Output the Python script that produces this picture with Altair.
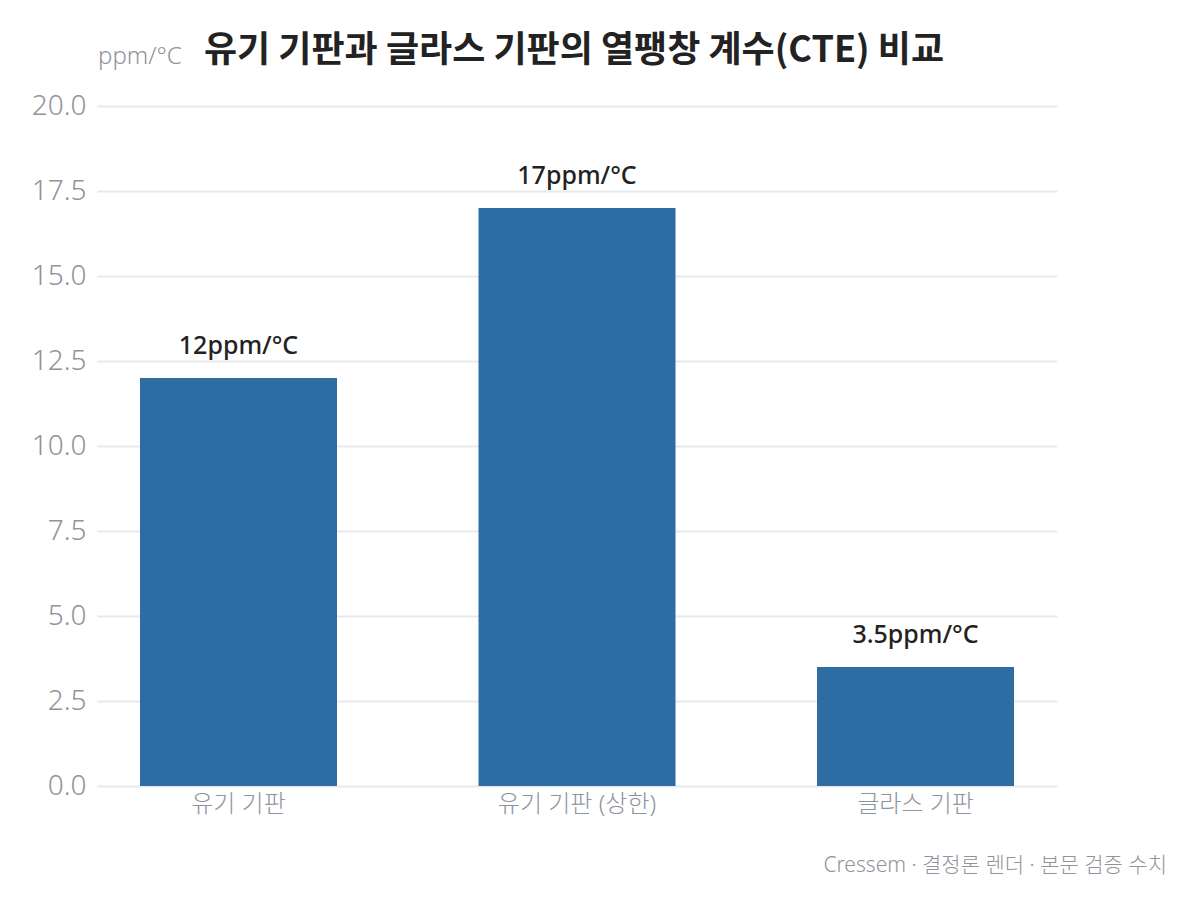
import altair as alt
import pandas as pd

categories = ["유기 기판", "유기 기판 (상한)", "글라스 기판"]
values = [12, 17, 3.5]
labels = ["12ppm/°C", "17ppm/°C", "3.5ppm/°C"]
title_text = "유기 기판과 글라스 기판의 열팽창 계수(CTE) 비교"
unit_text = "ppm/°C"
footer_text = "Cressem · 결정론 렌더 · 본문 검증 수치"

df = pd.DataFrame({"cat": categories, "val": values, "lab": labels})
FONT = "Noto Sans, Noto Sans CJK KR"
CJK = "Noto Sans CJK KR"
GRAY = "#8f949c"
W, H = 960, 680

base = alt.Chart(df).encode(
    x=alt.X("cat:N", sort=categories, title=None,
            scale=alt.Scale(paddingInner=0.418, paddingOuter=0.127),
            axis=alt.Axis(labelAngle=0, labelFontSize=24, labelColor=GRAY,
                          labelFont=FONT, labelFontWeight=300, domain=False, ticks=False,
                          labelPadding=6)),
    y=alt.Y("val:Q", title=None,
            scale=alt.Scale(domain=[0, 20]),
            axis=alt.Axis(values=[0, 2.5, 5, 7.5, 10, 12.5, 15, 17.5, 20], format=".1f",
                          labelFontSize=28, labelColor=GRAY, labelFont=FONT,
                          labelFontWeight=300, domain=False, ticks=False, labelPadding=11,
                          gridColor="#e8e9ed", gridWidth=2)),
)

bars = base.mark_bar(color="#2e6da4")
text = base.mark_text(baseline="alphabetic", dy=-24, fontSize=25, font=FONT,
                      fontWeight=500, color="#222222").encode(text="lab:N")

unit = alt.Chart(pd.DataFrame({"t": [unit_text]})).mark_text(
    align="left", baseline="alphabetic", fontSize=24, font=FONT, fontWeight=300, color=GRAY
).encode(x=alt.value(1), y=alt.value(-42), text="t:N")

title = alt.Chart(pd.DataFrame({"t": [title_text]})).mark_text(
    align="center", baseline="alphabetic", fontSize=36, font=CJK, fontWeight="bold",
    color="#222222"
).encode(x=alt.value(W / 2 - 3), y=alt.value(-44), text="t:N")

footer = alt.Chart(pd.DataFrame({"t": [footer_text]})).mark_text(
    align="right", baseline="middle", fontSize=21, font=FONT, fontWeight=300, color=GRAY
).encode(x=alt.value(1070), y=alt.value(760), text="t:N")

chart = alt.layer(bars, text, unit, title, footer).properties(
    width=W, height=H,
    autosize=alt.AutoSizeParams(type="none"),
    padding={"left": 89, "top": 98, "right": 120, "bottom": 100},
).configure_view(stroke=None)

chart.save("out.html", embed_options={"renderer": "svg", "actions": False})
